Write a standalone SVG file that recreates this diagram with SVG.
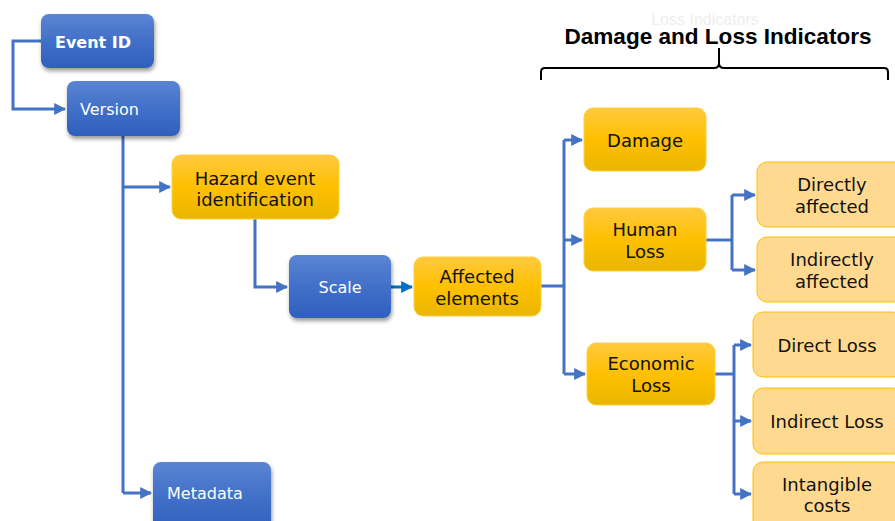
<svg xmlns="http://www.w3.org/2000/svg" width="895" height="521" viewBox="0 0 895 521">
<defs>
<linearGradient id="gBlue" x1="0" y1="0" x2="0" y2="1">
<stop offset="0" stop-color="#5B85D3"/><stop offset="0.5" stop-color="#4170C8"/><stop offset="1" stop-color="#2F5FBD"/>
</linearGradient>
<linearGradient id="gGold" x1="0" y1="0" x2="0" y2="1">
<stop offset="0" stop-color="#FFC93F"/><stop offset="0.5" stop-color="#FFC000"/><stop offset="1" stop-color="#E9B600"/>
</linearGradient>
<filter id="sh" x="-20%" y="-20%" width="140%" height="150%">
<feGaussianBlur in="SourceAlpha" stdDeviation="2"/>
<feOffset dx="1" dy="3" result="b"/>
<feComponentTransfer><feFuncA type="linear" slope="0.4"/></feComponentTransfer>
<feMerge><feMergeNode/><feMergeNode in="SourceGraphic"/></feMerge>
</filter>
<marker id="arr" viewBox="0 0 10 10" refX="9" refY="5" markerWidth="4" markerHeight="4" orient="auto" markerUnits="strokeWidth">
<path d="M0,0 L10,5 L0,10 z" fill="#4472C4"/>
</marker>
<marker id="arr2" viewBox="0 0 10 10" refX="9" refY="5" markerWidth="4" markerHeight="4" orient="auto" markerUnits="strokeWidth">
<path d="M0,0 L10,5 L0,10 z" fill="#0070C0"/>
</marker>
</defs>
<style>
.blue{fill:url(#gBlue);filter:url(#sh);}
.gold{fill:url(#gGold);stroke:#FFCF40;stroke-width:1;}
.light{fill:#FFD98F;stroke:#FFC000;stroke-width:1;}
.wt{fill:#FFFFFF;font-family:"DejaVu Sans",Verdana,sans-serif;font-size:16px;}
.bt{fill:#111111;font-family:"DejaVu Sans",Verdana,sans-serif;font-size:18px;text-anchor:middle;}
.c{fill:none;stroke:#4472C4;stroke-width:3;marker-end:url(#arr);}
.cn{fill:none;stroke:#4472C4;stroke-width:3;}
</style>
<rect width="895" height="521" fill="#FFFFFF"/>

<text x="705" y="25" font-family="'Liberation Sans',Arial,sans-serif" font-size="16" fill="#EEEEEE" text-anchor="middle">Loss Indicators</text>
<text x="718" y="44" font-family="'Liberation Sans',Arial,sans-serif" font-size="22" font-weight="bold" fill="#000000" text-anchor="middle" textLength="307" lengthAdjust="spacingAndGlyphs">Damage and Loss Indicators</text>
<path d="M541,80 L541,72 Q541,68 545,68 L714,68 Q719,68 719,63 L719,48 L719,63 Q719,68 724,68 L884,68 Q888,68 888,72 L888,80" fill="none" stroke="#000000" stroke-width="2"/>

<g id="connectors">
<path class="c" d="M41,41 H13 V109 H65"/>
<path class="cn" d="M123,136 V493"/>
<path class="c" d="M123,187 H170"/>
<path class="c" d="M123,493 H151"/>
<path class="c" d="M255,219 V287 H287"/>
<path d="M391,287 H412" fill="none" stroke="#0070C0" stroke-width="3" marker-end="url(#arr2)"/>
<path class="cn" d="M541,286 H564"/>
<path class="cn" d="M564,140 V374"/>
<path class="c" d="M564,140 H582"/>
<path class="c" d="M564,240 H582"/>
<path class="c" d="M564,374 H585"/>
<path class="cn" d="M706,240 H732"/>
<path class="c" d="M732,195 V195 H755"/>
<path class="cn" d="M732,195 V270"/>
<path class="c" d="M732,270 H755"/>
<path class="cn" d="M715,374 H734"/>
<path class="cn" d="M734,345 V494"/>
<path class="c" d="M734,345 H751"/>
<path class="c" d="M734,421 H751"/>
<path class="c" d="M734,494 H751"/>
</g>

<g id="event-id"><rect class="blue" x="41" y="14" width="113" height="54" rx="8"/><text class="wt" x="55" y="48" font-weight="bold">Event ID</text></g>
<g id="version"><rect class="blue" x="67" y="81" width="113" height="55" rx="8"/><text class="wt" x="80" y="115">Version</text></g>
<g id="hazard"><rect class="gold" x="172" y="155" width="167" height="64" rx="9"/><text class="bt" x="255" y="185">Hazard event</text><text class="bt" x="255" y="206">identification</text></g>
<g id="scale"><rect class="blue" x="289" y="255" width="102" height="63" rx="8"/><text class="wt" x="340" y="293" text-anchor="middle">Scale</text></g>
<g id="affected"><rect class="gold" x="414" y="257" width="127" height="59" rx="9"/><text class="bt" x="477" y="283">Affected</text><text class="bt" x="477" y="305">elements</text></g>
<g id="damage"><rect class="gold" x="584" y="108" width="122" height="63" rx="9"/><text class="bt" x="645" y="147">Damage</text></g>
<g id="human-loss"><rect class="gold" x="584" y="208" width="122" height="63" rx="9"/><text class="bt" x="645" y="236">Human</text><text class="bt" x="645" y="258">Loss</text></g>
<g id="economic-loss"><rect class="gold" x="587" y="343" width="128" height="62" rx="9"/><text class="bt" x="651" y="370">Economic</text><text class="bt" x="651" y="392">Loss</text></g>
<g id="directly"><rect class="light" x="757" y="162" width="150" height="65" rx="10"/><text class="bt" x="832" y="191">Directly</text><text class="bt" x="832" y="213">affected</text></g>
<g id="indirectly"><rect class="light" x="757" y="237" width="150" height="65" rx="10"/><text class="bt" x="832" y="266">Indirectly</text><text class="bt" x="832" y="288">affected</text></g>
<g id="direct-loss"><rect class="light" x="753" y="312" width="150" height="65" rx="10"/><text class="bt" x="827" y="352">Direct Loss</text></g>
<g id="indirect-loss"><rect class="light" x="753" y="388" width="150" height="66" rx="10"/><text class="bt" x="827" y="428">Indirect Loss</text></g>
<g id="intangible"><rect class="light" x="753" y="462" width="150" height="70" rx="10"/><text class="bt" x="827" y="491">Intangible</text><text class="bt" x="827" y="512">costs</text></g>
<g id="metadata"><rect class="blue" x="153" y="462" width="118" height="70" rx="8"/><text class="wt" x="167" y="499">Metadata</text></g>
</svg>
